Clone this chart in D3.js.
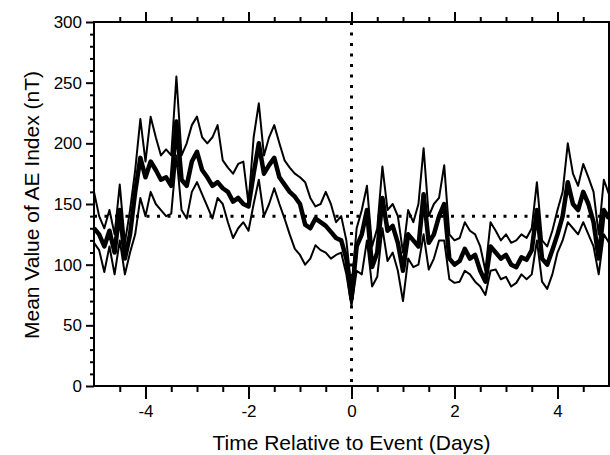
<!DOCTYPE html>
<html>

<head>
    <meta charset="utf-8">
    <script src="https://cdn.jsdelivr.net/npm/d3@7"></script>
    <title>Mean AE Index</title>
    <style>
        body {
            margin: 0;
            background: white;
        }

        text {
            font-family: 'Liberation Sans', Arial, Helvetica, sans-serif;
            fill: black;
        }
    </style>
</head>

<body>
    <div id="chart"></div>
    <script>
        // time relative to event (days), 0.1 day steps
        var days = d3.range(-50, 51).map(function (i) { return i / 10; });

        // mean AE (thick line)
        var meanAE = [130, 125, 115, 128, 110, 145, 105, 125, 160, 188,
            172, 185, 178, 170, 172, 165, 218, 170, 165, 185,
            193, 178, 172, 165, 168, 163, 160, 152, 155, 150,
            148, 175, 200, 175, 182, 188, 172, 166, 160, 156,
            150, 133, 130, 138, 135, 132, 127, 122, 120, 105,
            72, 115, 125, 145, 98, 110, 155, 128, 132, 118,
            95, 125, 120, 115, 158, 118, 125, 140, 150, 105,
            100, 103, 113, 105, 108, 95, 86, 115, 110, 105,
            108, 100, 98, 106, 104, 112, 145, 105, 100, 112,
            125, 140, 168, 150, 145, 160, 150, 135, 105, 145, 138];

        // upper bound (thin line)
        var upperAE = [160, 140, 130, 145, 125, 166, 118, 145, 178, 220,
            185, 222, 205, 190, 195, 190, 255, 190, 200, 215,
            222, 205, 200, 205, 215, 186, 180, 175, 183, 185,
            150, 205, 233, 190, 205, 215, 200, 186, 180, 175,
            172, 168, 155, 148, 150, 160, 150, 135, 140, 120,
            80, 130, 145, 165, 115, 130, 181, 145, 150, 140,
            110, 145, 135, 150, 196, 140, 150, 155, 182, 125,
            120, 122, 135, 128, 125, 115, 95, 135, 128, 120,
            125, 118, 120, 125, 122, 130, 168, 120, 115, 128,
            145, 160, 200, 175, 165, 183, 172, 160, 125, 170, 158];

        // lower bound (thin line)
        var lowerAE = [118, 112, 94, 115, 92, 120, 92, 110, 125, 155,
            140, 160, 150, 145, 140, 142, 190, 145, 138, 160,
            168, 158, 148, 138, 155, 150, 135, 122, 130, 135,
            128, 150, 170, 140, 150, 163, 150, 138, 125, 113,
            108, 100, 105, 116, 112, 110, 105, 108, 110, 92,
            66, 95, 92, 120, 82, 90, 130, 103, 110, 95,
            70, 105, 98, 100, 125, 96, 105, 120, 120, 88,
            85, 86, 95, 92, 86, 82, 75, 95, 96, 88,
            90, 82, 85, 92, 88, 92, 120, 86, 80, 92,
            110, 120, 135, 130, 125, 135, 125, 115, 92, 125, 118];

        var xLabels = [-4, -2, 0, 2, 4];
        var yLabels = [0, 50, 100, 150, 200, 250, 300];
        var refLevel = 140;

        var margin = { top: 22, right: 1, bottom: 69, left: 94 },
            width = 610 - margin.left - margin.right,
            height = 455 - margin.top - margin.bottom;

        var x = d3.scaleLinear().domain([-5, 5]).range([0, width]);
        var y = d3.scaleLinear().domain([0, 300]).range([height, 0]);

        var svg = d3.select("#chart").append("svg")
            .attr("width", 610)
            .attr("height", 455)
            .append("g")
            .attr("transform", "translate(" + margin.left + "," + margin.top + ")");

        var minorX = d3.range(-10, 11).map(function (i) { return i / 2; })
            .filter(function (d) { return xLabels.indexOf(d) < 0 && Math.abs(d) < 5; });
        var minorY = d3.range(0, 301, 10).filter(function (d) { return d % 50 !== 0; });

        function styleAxis(g) {
            g.select(".domain").remove();
            g.selectAll("line").attr("stroke", "black").attr("stroke-width", 2);
            g.selectAll("text").style("font-size", "17px");
        }

        //x bottom
        svg.append("g")
            .attr("transform", "translate(0," + height + ")")
            .call(d3.axisBottom(x).tickValues(xLabels).tickSize(13).tickPadding(6)
                .tickFormat(function (d) { return String(d); }))
            .call(styleAxis);
        svg.append("g")
            .attr("transform", "translate(0," + height + ")")
            .call(d3.axisBottom(x).tickValues(minorX).tickSize(6).tickFormat(""))
            .call(styleAxis);

        //x top
        svg.append("g")
            .call(d3.axisTop(x).tickValues(xLabels).tickSize(10).tickFormat(""))
            .call(styleAxis);
        svg.append("g")
            .call(d3.axisTop(x).tickValues(minorX).tickSize(5).tickFormat(""))
            .call(styleAxis);

        //y left
        svg.append("g")
            .call(d3.axisLeft(y).tickValues(yLabels).tickSize(8).tickPadding(4)
                .tickFormat(function (d) { return String(d); }))
            .call(styleAxis);
        svg.append("g")
            .call(d3.axisLeft(y).tickValues(minorY).tickSize(4).tickFormat(""))
            .call(styleAxis);

        // frame
        svg.append("rect")
            .attr("x", 0)
            .attr("y", 0)
            .attr("width", width)
            .attr("height", height)
            .attr("fill", "none")
            .attr("stroke", "black")
            .attr("stroke-width", 2);

        // reference lines
        svg.append("line")
            .attr("x1", x(-5)).attr("x2", x(5))
            .attr("y1", y(refLevel)).attr("y2", y(refLevel))
            .attr("stroke", "black")
            .attr("stroke-width", 3)
            .attr("stroke-dasharray", "3,7.5");
        svg.append("line")
            .attr("x1", x(0)).attr("x2", x(0))
            .attr("y1", y(300)).attr("y2", y(0))
            .attr("stroke", "black")
            .attr("stroke-width", 3)
            .attr("stroke-dasharray", "3,7.5");

        // lines
        function drawLine(values, w) {
            var line = d3.line()
                .x(function (d, i) { return x(days[i]); })
                .y(function (d) { return y(d); });
            svg.append("path")
                .datum(values)
                .attr("d", line)
                .attr("fill", "none")
                .attr("stroke", "black")
                .attr("stroke-width", w)
                .attr("stroke-linejoin", "round");
        }
        drawLine(upperAE, 2);
        drawLine(lowerAE, 2);
        drawLine(meanAE, 4.5);

        //x label
        svg.append("text")
            .attr("x", width / 2)
            .attr("y", height + 64)
            .style("text-anchor", "middle")
            .style("font-size", "21px")
            .text("Time Relative to Event (Days)");

        //y label
        svg.append("text")
            .attr("transform", "rotate(-90)")
            .attr("x", -183)
            .attr("y", -55)
            .style("text-anchor", "middle")
            .style("font-size", "21px")
            .text("Mean Value of AE Index (nT)");
    </script>
</body>

</html>
